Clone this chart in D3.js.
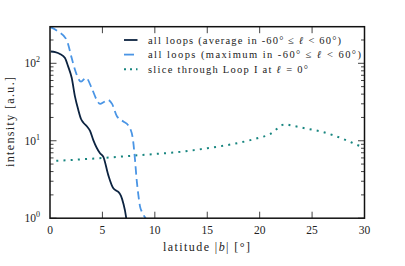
<!DOCTYPE html>
<html>
<head>
<meta charset="utf-8">
<script src="https://cdn.jsdelivr.net/npm/d3@7"></script>
<style>
  body { margin: 0; background: #fff; }
  text { font-family: "Liberation Serif", serif; fill: #222; }
</style>
</head>
<body>
<div id="chart"></div>
<script>
// average over loops (solid)
const avgLat = [0.07, 0.5, 0.95, 1.43, 1.72, 2.07, 2.39, 2.70, 2.96, 3.17, 3.53, 3.82, 4.13, 4.77, 5.09, 5.56, 6.04, 6.30, 6.52, 6.77, 6.99, 7.25, 7.4];
const avgVal = [142, 139, 132, 117, 92, 65, 36.8, 25, 19.1, 17.2, 15.3, 13.4, 10.2, 6.9, 6.2, 3.6, 2.43, 2.28, 2.18, 1.94, 1.56, 1.05, 0.7];

// maximum over loops (dashed)
const maxLat = [0, 0.79, 1.59, 2.07, 2.39, 2.96, 3.44, 3.98, 4.46, 4.77, 5.15, 5.53, 5.92, 6.37, 7.0, 7.44, 7.63, 7.92, 8.11, 8.27, 8.44, 8.59, 8.78, 8.97, 9.16, 9.4];
const maxVal = [295, 257, 200, 117, 82, 58, 65, 47.7, 33.7, 29.9, 31.7, 33.7, 29.9, 20.9, 17.7, 16.0, 14.6, 10.2, 5.65, 3.1, 1.94, 1.41, 1.2, 1.07, 0.96, 0.6];

// slice through Loop I at l = 0 (dotted)
const sliceLat = [0.6, 2.5, 5, 7.5, 10, 12.5, 15, 17.5, 19, 20, 21, 21.5, 22, 22.5, 23, 24, 25, 26, 27, 28, 29, 29.5];
const sliceVal = [5.5, 5.7, 6.0, 6.35, 6.75, 7.2, 8.0, 9.1, 10.1, 11.0, 12.2, 13.7, 15.6, 16.3, 15.8, 14.8, 13.9, 13.0, 11.8, 10.5, 9.2, 8.6];

const xTicks = [0, 5, 10, 15, 20, 25, 30];
const yTicks = [1, 10, 100];
const yExponents = ["0", "1", "2"];

const legendLabels = [
  ["all loops (average in -60° ≤ ", "ℓ", " < 60°)"],
  ["all loops (maximum in -60° ≤ ", "ℓ", " < 60°)"],
  ["slice through Loop I at ", "ℓ", " = 0°"]
];
const legendWidths = [193, 213, 160];

const width = 405, height = 266;
const margin = {top: 26.7, right: 40.5, bottom: 47.8, left: 50};
const iw = width - margin.left - margin.right;
const ih = height - margin.top - margin.bottom;

const svg = d3.select("#chart")
  .append("svg")
    .attr("width", width)
    .attr("height", height);

const x = d3.scaleLinear().domain([0, 30]).range([0, iw]);
const y = d3.scaleLog().domain([1, 297]).range([ih, 0]);

const g = svg.append("g").attr("transform", `translate(${margin.left},${margin.top})`);

g.append("clipPath").attr("id", "clip")
  .append("rect").attr("width", iw).attr("height", ih);

const line = d3.line()
  .x(d => x(d[0]))
  .y(d => y(d[1]))
  .curve(d3.curveMonotoneX);

const series = [
  {lat: sliceLat, val: sliceVal, color: "#17857f", dash: "2,5.2", w: 2},
  {lat: maxLat, val: maxVal, color: "#4a95e5", dash: "8,4.5", w: 1.8},
  {lat: avgLat, val: avgVal, color: "#0c2340", dash: null, w: 1.8}
];

const plot = g.append("g").attr("clip-path", "url(#clip)");
series.forEach(s => {
  plot.append("path")
    .datum(s.lat.map((b, i) => [b, s.val[i]]))
    .attr("d", line)
    .attr("fill", "none")
    .attr("stroke", s.color)
    .attr("stroke-width", s.w)
    .attr("stroke-dasharray", s.dash);
});

// ticks (inward, on all sides)
const minor = [];
[1, 10, 100].forEach(dec => {
  for (let k = 2; k <= 9; k++) if (dec * k <= 297) minor.push(dec * k);
});
const tickCol = "#444";
const ticks = g.append("g").attr("stroke", tickCol).attr("stroke-width", 1);
xTicks.slice(1, -1).forEach(t => {
  ticks.append("line").attr("x1", x(t)).attr("x2", x(t)).attr("y1", ih).attr("y2", ih - 6.5);
  ticks.append("line").attr("x1", x(t)).attr("x2", x(t)).attr("y1", 0).attr("y2", 6.5);
});
yTicks.forEach(t => {
  ticks.append("line").attr("x1", 0).attr("x2", 6.5).attr("y1", y(t)).attr("y2", y(t));
  ticks.append("line").attr("x1", iw).attr("x2", iw - 6.5).attr("y1", y(t)).attr("y2", y(t));
});
minor.forEach(t => {
  ticks.append("line").attr("x1", 0).attr("x2", 3.5).attr("y1", y(t)).attr("y2", y(t));
  ticks.append("line").attr("x1", iw).attr("x2", iw - 3.5).attr("y1", y(t)).attr("y2", y(t));
});

// frame
g.append("rect")
  .attr("width", iw).attr("height", ih)
  .attr("fill", "none").attr("stroke", "#111").attr("stroke-width", 1.5);

// tick labels
g.selectAll(".xl").data(xTicks).join("text")
  .attr("x", d => x(d)).attr("y", ih + 16)
  .attr("text-anchor", "middle").attr("font-size", 11.5)
  .text(d => d);

const yl = g.selectAll(".yl").data(yTicks).join("text")
  .attr("x", -10).attr("y", d => y(d) + 4)
  .attr("text-anchor", "end").attr("font-size", 11.5);
yl.append("tspan").text("10");
yl.append("tspan").attr("dy", -5).attr("font-size", 8).text((d, i) => yExponents[i]);

// axis labels
const xlab = svg.append("text")
  .attr("x", 163).attr("y", 250.5)
  .attr("font-size", 12)
  .attr("textLength", 87).attr("lengthAdjust", "spacing");
xlab.append("tspan").text("latitude |");
xlab.append("tspan").attr("font-style", "italic").text("b");
xlab.append("tspan").text("| [°]");

svg.append("text")
  .attr("transform", `translate(14,167) rotate(-90)`)
  .attr("font-size", 12)
  .attr("textLength", 90).attr("lengthAdjust", "spacing")
  .text("intensity [a.u.]");

// legend
const leg = g.append("g").attr("transform", "translate(74,13.3)");
series.slice().reverse().forEach((s, i) => {
  const row = leg.append("g").attr("transform", `translate(0,${i * 14.6})`);
  row.append("line")
    .attr("x1", 0).attr("x2", 13.5)
    .attr("stroke", s.color).attr("stroke-width", s.w)
    .attr("stroke-dasharray", s.dash ? (i === 1 ? "10,4" : "2,4") : null);
  const t = row.append("text").attr("x", 24).attr("y", 3.5).attr("font-size", 10.5)
    .attr("textLength", legendWidths[i]).attr("lengthAdjust", "spacing");
  const parts = legendLabels[i];
  t.append("tspan").text(parts[0]);
  t.append("tspan").attr("font-style", "italic").attr("font-weight", "bold").text(parts[1]);
  t.append("tspan").text(parts[2]);
});
</script>
</body>
</html>
